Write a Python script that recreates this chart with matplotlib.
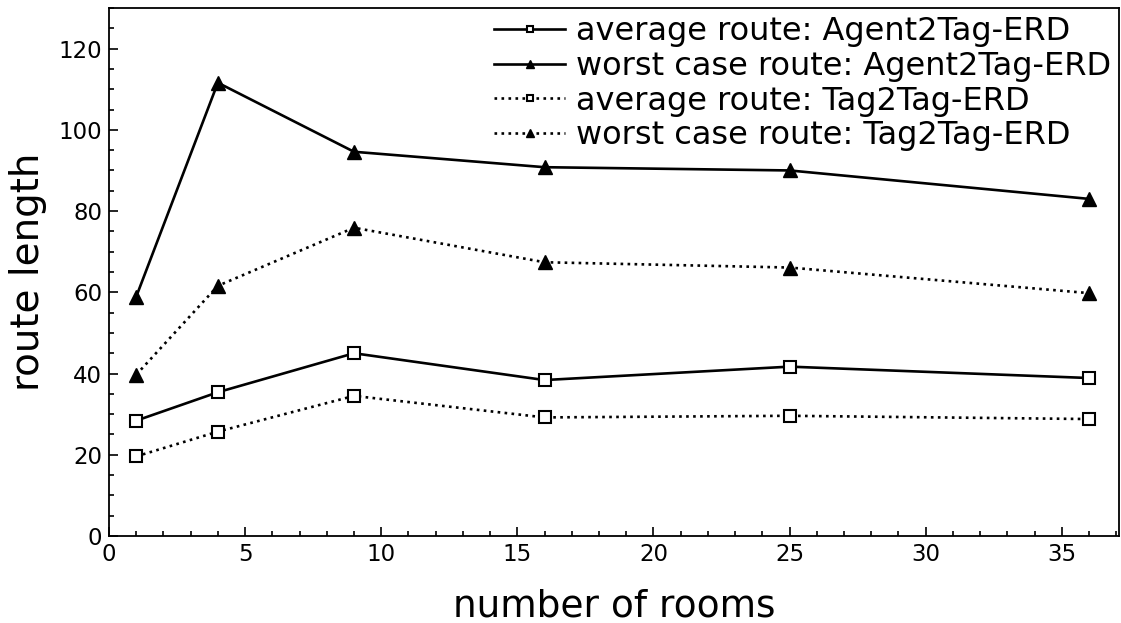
import matplotlib
matplotlib.use('Agg')
import matplotlib.pyplot as plt
from matplotlib.ticker import MultipleLocator

plt.rcParams['font.family'] = ['DejaVu Sans']

rooms = [1, 4, 9, 16, 25, 36]
avg_agent2tag = [28.4, 35.4, 45.0, 38.4, 41.7, 38.9]
worst_agent2tag = [58.9, 111.6, 94.6, 90.8, 90.0, 83.0]
avg_tag2tag = [19.6, 25.7, 34.5, 29.2, 29.6, 28.8]
worst_tag2tag = [39.7, 61.6, 75.9, 67.4, 66.1, 59.8]

labels = ['average route: Agent2Tag-ERD',
          'worst case route: Agent2Tag-ERD',
          'average route: Tag2Tag-ERD',
          'worst case route: Tag2Tag-ERD']

fig = plt.figure(figsize=(11.21, 6.23), dpi=100)
ax = fig.add_axes([0.0972, 0.1396, 0.901, 0.8476])

ax.plot(rooms, avg_agent2tag, '-', color='black', lw=1.9, marker='s', ms=9,
        mfc='white', mec='black', mew=1.5, label=labels[0])
ax.plot(rooms, worst_agent2tag, '-', color='black', lw=1.9, marker='^', ms=10,
        mfc='black', mec='black', label=labels[1])
ax.plot(rooms, avg_tag2tag, ':', color='black', lw=1.9, marker='s', ms=9,
        mfc='white', mec='black', mew=1.5, label=labels[2])
ax.plot(rooms, worst_tag2tag, ':', color='black', lw=1.9, marker='^', ms=10,
        mfc='black', mec='black', label=labels[3])

ax.set_xlim(0, 37.1)
ax.set_ylim(0, 130)
ax.xaxis.set_major_locator(MultipleLocator(5))
ax.xaxis.set_minor_locator(MultipleLocator(1))
ax.yaxis.set_major_locator(MultipleLocator(20))
ax.yaxis.set_minor_locator(MultipleLocator(5))
ax.tick_params(which='both', direction='in', top=False, right=False,
               labelsize=16.5, width=1.2)
ax.tick_params(which='major', length=6.5, pad=5)
ax.tick_params(which='minor', length=3.6)
for s in ax.spines.values():
    s.set_linewidth(1.3)

ax.set_xlabel('number of rooms', fontsize=27, labelpad=16)
ax.set_ylabel('route length', fontsize=28, labelpad=8)

leg = ax.legend(loc='upper right', frameon=False, fontsize=23,
                handlelength=2.2, handletextpad=0.35, labelspacing=0.12,
                markerscale=0.55, borderaxespad=0.1, borderpad=0.15)

fig.savefig('out.png', dpi=100, facecolor='white')
